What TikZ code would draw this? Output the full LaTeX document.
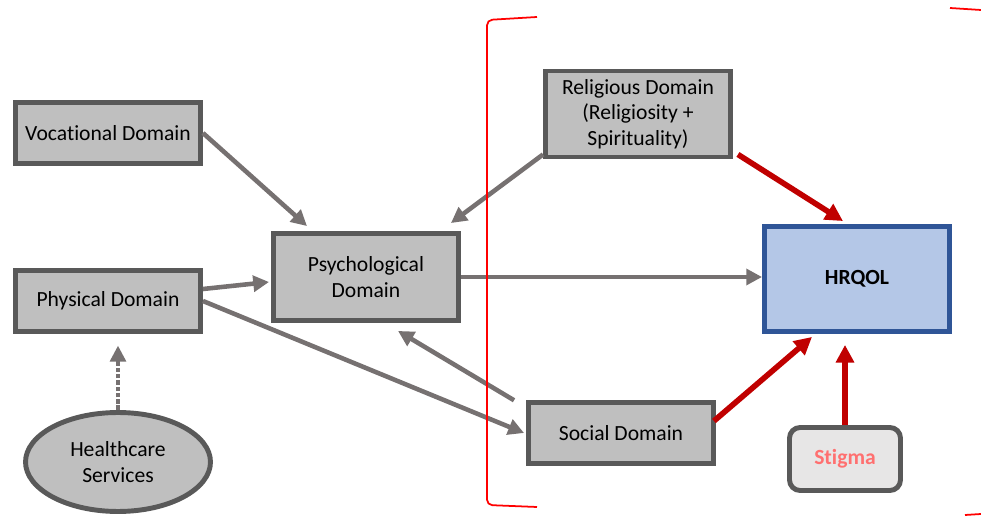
\documentclass[tikz,border=0pt]{standalone}
\usepackage{fontspec}
\setmainfont{Carlito}[Ligatures=NoCommon]
\usetikzlibrary{arrows.meta,calc,shapes.geometric}
\definecolor{boxgray}{HTML}{BFBFBF}
\definecolor{edgegray}{HTML}{595959}
\definecolor{arrowgray}{HTML}{767171}
\definecolor{arrowred}{HTML}{C00000}
\definecolor{hrqfill}{HTML}{B4C7E7}
\definecolor{hrqedge}{HTML}{2F5597}
\definecolor{stigfill}{HTML}{E7E6E6}
\definecolor{stigtext}{HTML}{FF7070}

\begin{document}
\begin{tikzpicture}[x=0.02cm, y=-0.02cm,
  dombox/.style={draw=edgegray, line width=2.8pt, fill=boxgray, minimum width=3.7cm,
    minimum height=1.21cm, align=center, inner sep=2pt, font=\fontsize{12.3}{14.5}\selectfont},
  link/.style={>={Triangle[length=9pt,width=9pt]}, ->, line width=2.6pt, draw=arrowgray},
  redlink/.style={>={Triangle[length=10pt,width=10pt]}, ->, line width=3.2pt, draw=arrowred}]
\useasboundingbox (0,0) rectangle (981,516);

% domains
\node[dombox] (voc) at (108,133) {Vocational Domain};
\node[dombox] (phy) at (108,301) {Physical Domain};
\node[dombox, minimum height=1.74cm] (psy) at (366,277) {Psychological\\Domain};
\node[dombox, minimum height=1.72cm] (rel) at (638,114) {Religious Domain\\(Religiosity +\\Spirituality)};
\node[dombox] (soc) at (621,433) {Social Domain};
\node[dombox, draw=hrqedge, fill=hrqfill, minimum height=2.1cm, font=\fontsize{12.3}{14.5}\selectfont\bfseries] (hrq) at (857,279) {HRQOL};
\node[dombox, fill=stigfill, rounded corners=6pt, minimum width=2.22cm, minimum height=1.26cm,
  text=stigtext, font=\fontsize{12.3}{14.5}\selectfont\bfseries] (sti) at (845,459) {Stigma};
\node[dombox, ellipse, minimum width=3.7cm, minimum height=1.98cm] (hc) at (118,462) {Healthcare\\Services};

% gray links
\draw[link] (voc.east) -- ($(psy.north)+(-59,-5)$);
\draw[link] ($(rel.south west)+(0,-5)$) -- ($(psy.north east)+(-10,-8)$);
\draw[link] ($(phy.east)+(0,-12)$) -- ($(psy.west)+(-2,5)$);
\draw[link] (phy.east) -- ($(soc.west)+(-2,0)$);
\draw[link] ($(soc.north west)+(-12,0)$) -- ($(psy.south)+(32,8)$);
\draw[link] (psy.east) -- (psy.east -| hrq.west);
\draw[link, densely dotted, line width=1.8pt] (hc.north) -- ($(phy.south -| hc.north)+(0,12)$);

% red links
\draw[redlink] ($(rel.south east)+(5,-5)$) -- ($(hrq.north)+(-14,-3)$);
\draw[redlink] ($(soc.east)+(-2,-12)$) -- ($(hrq.south)+(-45,3)$);
\draw[redlink] (sti.north) -- ($(hrq.south -| sti.north)+(0,11)$);

% bracket
\draw[red, line width=1pt, rounded corners=3pt] (537,17) -- (487,20) -- (487,505) -- (537,507);
\draw[red, line width=1pt] (950,8) -- (981,10);
\draw[red, line width=1pt] (965,515) -- (981,514);
\end{tikzpicture}
\end{document}
